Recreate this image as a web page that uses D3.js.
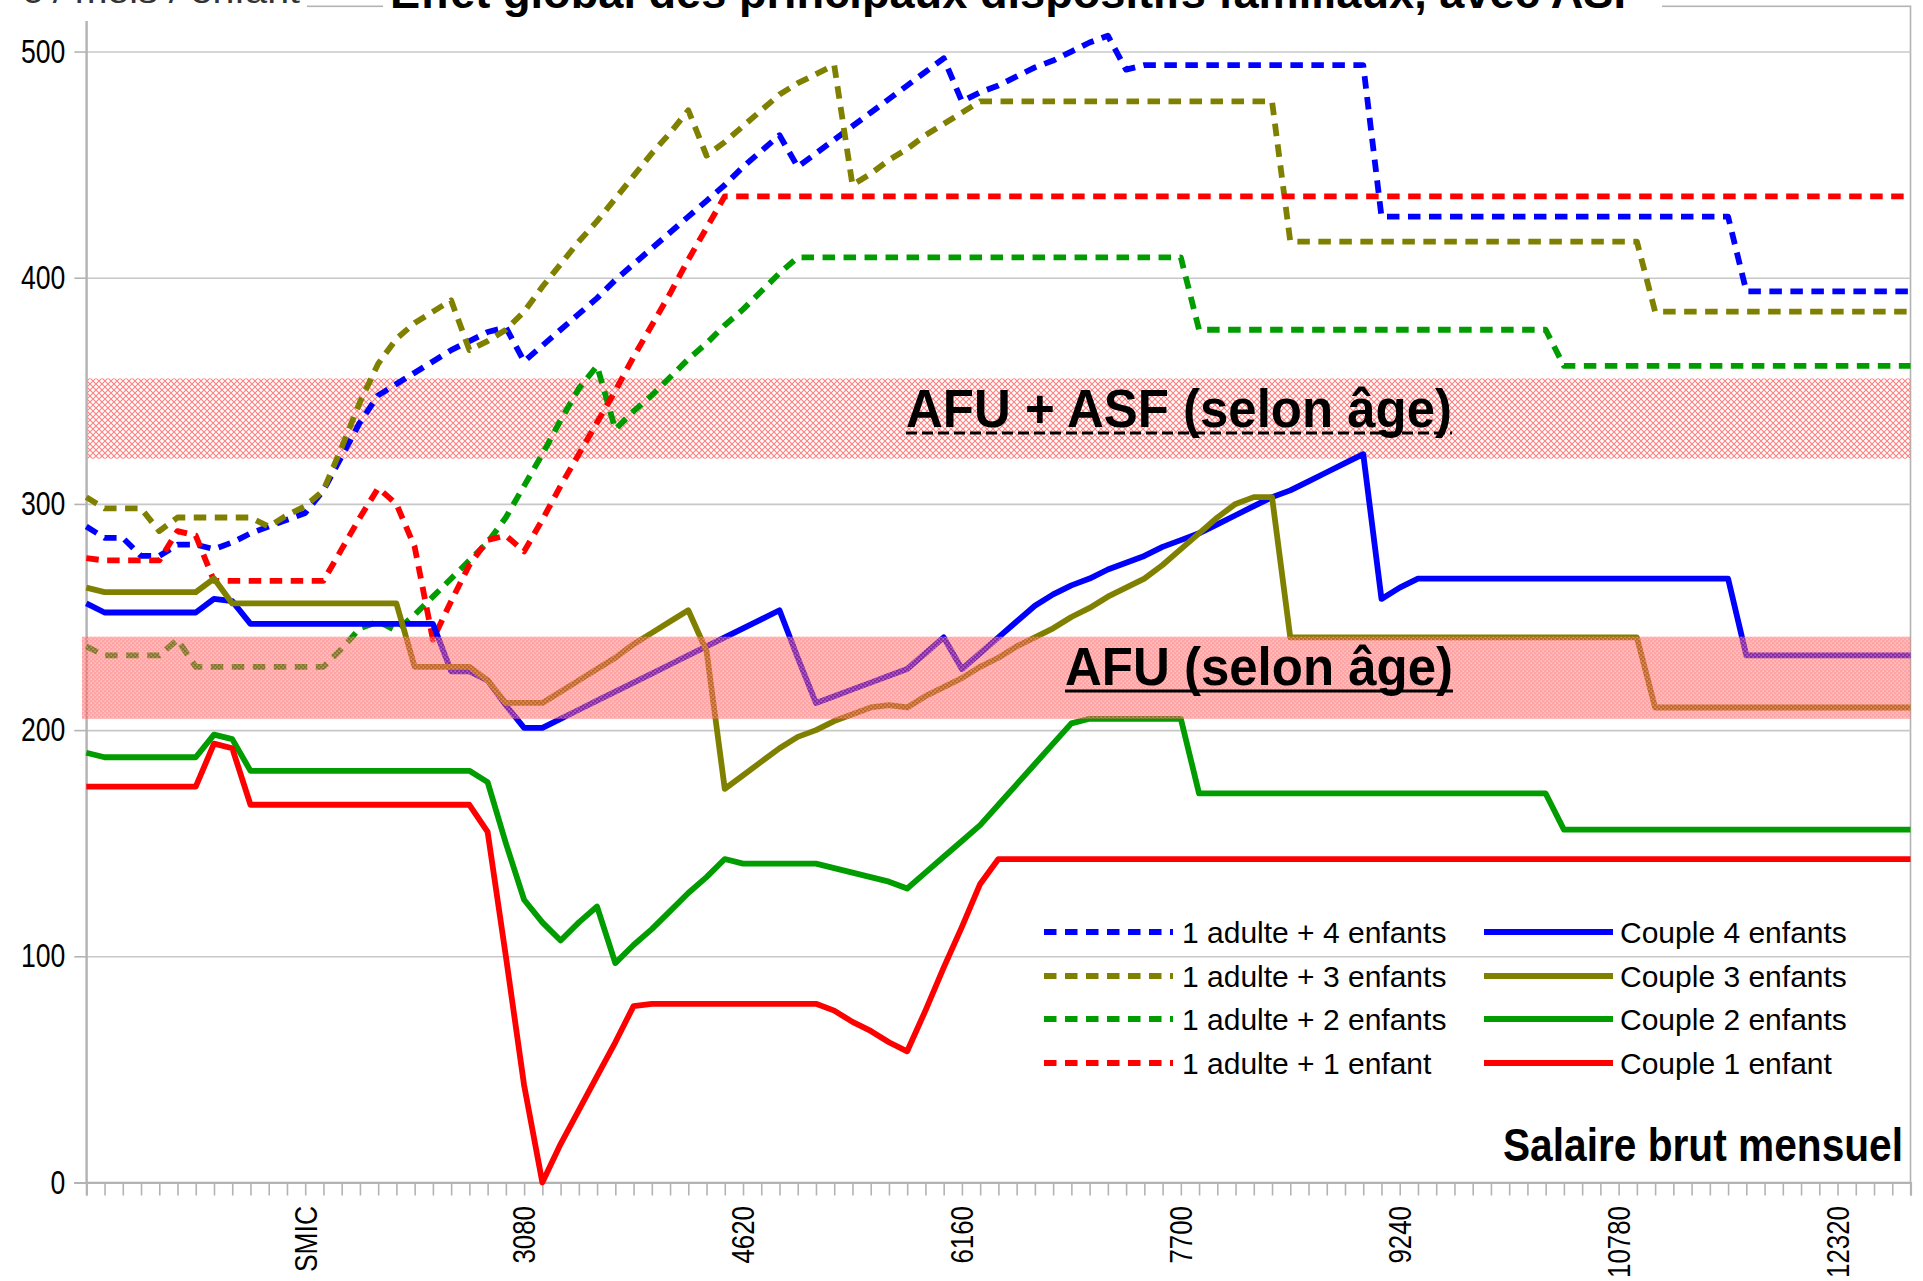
<!DOCTYPE html>
<html><head><meta charset="utf-8">
<script src="https://cdn.jsdelivr.net/npm/d3@7"></script>
<style>
body{margin:0;background:#fff;}
svg{display:block;font-family:"Liberation Sans",Arial,sans-serif;}
</style>
</head><body>
<svg id="chart" width="1923" height="1281"></svg>
<script>
// ---- DATA ----
// category index 0..100 (gross monthly salary, steps of 1540/12)
const categories = d3.range(0, 101);
const xTickLabels = [
  {i: 12, label: "SMIC"}, {i: 24, label: "3080"}, {i: 36, label: "4620"},
  {i: 48, label: "6160"}, {i: 60, label: "7700"}, {i: 72, label: "9240"},
  {i: 84, label: "10780"}, {i: 96, label: "12320"}
];
const yTickValues = [0, 100, 200, 300, 400, 500];
const bandASF = [320, 355.5];
const bandAFU = [205, 241.3];

const adulte4 = [290,285,285,277,277,282,282,280,283,287,
290,293,296,306,321,336,348,353,358,363,
368,372,376,378,363,370,377,384,391,399,
406,413,420,427,434,441,449,456,463,449,
455,461,467,473,479,485,491,497,478,482,
485,489,493,496,500,504,507,492,494,494,
494,494,494,494,494,494,494,494,494,494,
494,427,427,427,427,427,427,427,427,427,
427,427,427,427,427,427,427,427,427,427,
427,394,394,394,394,394,394,394,394,394,
394];
const adulte3 = [303,298,298,298,288,294,294,294,294,294,
290,295,299,306,325,345,362,373,380,385,
390,368,372,377,385,396,406,416,425,435,
445,455,464,474,454,460,467,474,481,486,
490,494,441,446,452,457,463,468,473,478,
478,478,478,478,478,478,478,478,478,478,
478,478,478,478,478,478,416,416,416,416,
416,416,416,416,416,416,416,416,416,416,
416,416,416,416,416,416,385,385,385,385,
385,385,385,385,385,385,385,385,385,385,
385];
const adulte2 = [237,233,233,233,233,240,228,228,228,228,
228,228,228,228,236,245,248,244,251,259,
267,275,283,294,308,322,337,351,361,333,
341,348,356,364,371,379,386,394,402,409,
409,409,409,409,409,409,409,409,409,409,
409,409,409,409,409,409,409,409,409,409,
409,377,377,377,377,377,377,377,377,377,
377,377,377,377,377,377,377,377,377,377,
377,361,361,361,361,361,361,361,361,361,
361,361,361,361,361,361,361,361,361,361,
361];
const adulte1 = [276,275,275,275,275,288,286,266,266,266,
266,266,266,266,280,294,307,300,281,240,
257,273,284,286,279,293,308,322,336,350,
365,379,393,408,422,436,436,436,436,436,
436,436,436,436,436,436,436,436,436,436,
436,436,436,436,436,436,436,436,436,436,
436,436,436,436,436,436,436,436,436,436,
436,436,436,436,436,436,436,436,436,436,
436,436,436,436,436,436,436,436,436,436,
436,436,436,436,436,436,436,436,436,436,
436];
const couple4 = [256,252,252,252,252,252,252,258,257,247,
247,247,247,247,247,247,247,247,247,247,
226,226,222,211,201,201,205,209,213,217,
221,225,229,233,237,241,245,249,253,232,
212,215,218,221,224,227,234,241,227,234,
241,248,255,260,264,267,271,274,277,281,
284,287,291,295,299,303,306,310,314,318,
322,258,263,267,267,267,267,267,267,267,
267,267,267,267,267,267,267,267,267,267,
267,233,233,233,233,233,233,233,233,233,
233];
const couple3 = [263,261,261,261,261,261,261,267,256,256,
256,256,256,256,256,256,256,256,228,228,
228,228,222,212,212,212,217,222,227,232,
238,243,248,253,235,174,180,186,192,197,
200,204,207,210,211,210,215,219,223,228,
232,237,241,245,250,254,259,263,267,273,
280,287,294,300,303,303,241,241,241,241,
241,241,241,241,241,241,241,241,241,241,
241,241,241,241,241,241,210,210,210,210,
210,210,210,210,210,210,210,210,210,210,
210];
const couple2 = [190,188,188,188,188,188,188,198,196,182,
182,182,182,182,182,182,182,182,182,182,
182,182,177,150,125,115,107,115,122,97,
105,112,120,128,135,143,141,141,141,141,
141,139,137,135,133,130,137,144,151,158,
167,176,185,194,203,205,205,205,205,205,
205,172,172,172,172,172,172,172,172,172,
172,172,172,172,172,172,172,172,172,172,
172,156,156,156,156,156,156,156,156,156,
156,156,156,156,156,156,156,156,156,156,
156];
const couple1 = [175,175,175,175,175,175,175,194,192,167,
167,167,167,167,167,167,167,167,167,167,
167,167,155,100,43,0,17,32,47,62,
78,79,79,79,79,79,79,79,79,79,
79,76,71,67,62,58,76,95,113,132,
143,143,143,143,143,143,143,143,143,143,
143,143,143,143,143,143,143,143,143,143,
143,143,143,143,143,143,143,143,143,143,
143,143,143,143,143,143,143,143,143,143,
143,143,143,143,143,143,143,143,143,143,
143];

const seriesNames = ["1 adulte + 4 enfants","1 adulte + 3 enfants","1 adulte + 2 enfants","1 adulte + 1 enfant",
                     "Couple 4 enfants","Couple 3 enfants","Couple 2 enfants","Couple 1 enfant"];
const seriesValues = [adulte4, adulte3, adulte2, adulte1, couple4, couple3, couple2, couple1];
const seriesColors = ["#0000ff","#808000","#009c00","#ff0000","#0000ff","#808000","#009c00","#ff0000"];
const seriesDashed = [true,true,true,true,false,false,false,false];

const titleText = "Effet global des principaux dispositifs familiaux, avec ASF";
const unitText = "€ / mois / enfant";
const xAxisTitle = "Salaire brut mensuel";
const bandASFLabel = "AFU + ASF (selon âge)";
const bandAFULabel = "AFU (selon âge)";

// ---- CHART ----
const svg = d3.select("#chart");
const X0 = 86.3, X1 = 1910.5, YB = 1182.5, YT = 6.3;
const x = d3.scaleLinear().domain([0, 100]).range([X0, X1]);
const y = d3.scaleLinear().domain([0, 520]).range([YB, YT]);
const grey = "#b3b3b3";

const defs = svg.append("defs");
const hatch = defs.append("pattern").attr("id","hatch").attr("patternUnits","userSpaceOnUse")
  .attr("width",6).attr("height",6);
hatch.append("path").attr("d","M0,0L6,6M6,0L0,6").attr("stroke","#ff7f7f").attr("stroke-width",1.1).attr("fill","none");
const dots = defs.append("pattern").attr("id","dots").attr("patternUnits","userSpaceOnUse")
  .attr("width",4).attr("height",4);
dots.append("rect").attr("width",4).attr("height",4).attr("fill","rgba(255,80,80,0.52)");
dots.append("rect").attr("x",0.5).attr("y",0.5).attr("width",1.3).attr("height",1.3).attr("fill","rgba(255,255,255,0.5)");
dots.append("rect").attr("x",2.5).attr("y",2.5).attr("width",1.3).attr("height",1.3).attr("fill","rgba(255,255,255,0.5)");

// wall border
svg.append("rect").attr("x",X0).attr("y",YT).attr("width",X1-X0).attr("height",YB-YT)
  .attr("fill","none").attr("stroke",grey).attr("stroke-width",1.6);

// grid
const grid = svg.append("g").attr("transform",`translate(${X0},0)`)
  .call(d3.axisLeft(y).tickValues(yTickValues.filter(v=>v>0)).tickSize(-(X1-X0)).tickFormat(""));
grid.select(".domain").remove();
grid.selectAll("line").attr("stroke","#c8c8c8").attr("stroke-width",1.6);

// upper band (under lines)
svg.append("rect").attr("x",X0).attr("width",X1-X0)
  .attr("y",y(bandASF[1])).attr("height",y(bandASF[0])-y(bandASF[1]))
  .attr("fill","url(#hatch)");

// y axis
const yAxis = svg.append("g").attr("transform",`translate(${X0},0)`)
  .call(d3.axisLeft(y).tickValues(yTickValues).tickSize(12).tickPadding(9));
yAxis.select(".domain").attr("stroke",grey).attr("stroke-width",2);
yAxis.selectAll("line").attr("stroke",grey).attr("stroke-width",1.6);
yAxis.selectAll("text").attr("font-size",33).attr("fill","#000")
  .attr("font-family",'"Liberation Sans",Arial,sans-serif')
  .attr("textLength", d => String(d).length*14.8).attr("lengthAdjust","spacingAndGlyphs");

// x axis
const labelMap = new Map(xTickLabels.map(d => [d.i, d.label]));
const xAxis = svg.append("g").attr("transform",`translate(0,${YB})`)
  .call(d3.axisBottom(x).tickValues(categories).tickSize(13).tickFormat(i => labelMap.get(i) || ""));
xAxis.select(".domain").attr("stroke",grey).attr("stroke-width",2.2);
xAxis.selectAll("line").attr("stroke",grey).attr("stroke-width",1.6);
xAxis.selectAll("text").attr("font-size",31).attr("fill","#000")
  .attr("font-family",'"Liberation Sans",Arial,sans-serif')
  .attr("text-anchor","end").attr("transform","rotate(-90)")
  .attr("x",-23.5).attr("y",0).attr("dy","0.35em")
  .each(function(d){ const t = labelMap.get(d); if(t){ d3.select(this).attr("textLength", t==="SMIC"?66:t.length*14.4).attr("lengthAdjust","spacingAndGlyphs"); } });

// lines
const line = d3.line().x((d,i) => x(categories[i])).y(d => y(d)).curve(d3.curveLinear);
const lines = svg.append("g");
seriesValues.forEach((vals, k) => {
  lines.append("path").datum(vals)
    .attr("d", line).attr("fill","none")
    .attr("stroke", seriesColors[k]).attr("stroke-width", 5.8)
    .attr("stroke-linejoin","round")
    .attr("stroke-dasharray", seriesDashed[k] ? "12.5,8.5" : null);
});

// lower band (over lines)
svg.append("rect").attr("x",82).attr("width",X1-82)
  .attr("y",y(bandAFU[1])).attr("height",y(bandAFU[0])-y(bandAFU[1]))
  .attr("fill","url(#dots)");

// band labels
function boldLabel(txt, xs, base, size, len, dashed){
  svg.append("text").attr("x",xs).attr("y",base).attr("font-size",size).attr("font-weight","bold")
    .attr("textLength",len).attr("lengthAdjust","spacingAndGlyphs").attr("fill","#000").text(txt);
  svg.append("line").attr("x1",xs).attr("x2",xs+len).attr("y1",base+6).attr("y2",base+6)
    .attr("stroke","#000").attr("stroke-width",3)
    .attr("stroke-dasharray", dashed ? "11,5" : null);
}
boldLabel(bandASFLabel, 906, 427, 54, 546, true);
boldLabel(bandAFULabel, 1065, 685, 53, 388, false);

// x axis title
svg.append("text").attr("x",1503).attr("y",1161).attr("font-size",46).attr("font-weight","bold")
  .attr("textLength",400).attr("lengthAdjust","spacingAndGlyphs").text(xAxisTitle);

// legend
const legRows = [932, 976, 1019, 1063];
seriesNames.forEach((name, k) => {
  const col = k < 4 ? 0 : 1, row = k % 4;
  const lx = col === 0 ? 1044 : 1484, tx = col === 0 ? 1182 : 1620;
  const ly = legRows[row];
  svg.append("line").attr("x1",lx).attr("x2",lx+129).attr("y1",ly).attr("y2",ly)
    .attr("stroke",seriesColors[k]).attr("stroke-width",5.8)
    .attr("stroke-dasharray", seriesDashed[k] ? "12.5,8.5" : null);
  svg.append("text").attr("x",tx).attr("y",ly+11).attr("font-size",30).attr("fill","#000").text(name);
});

// top (cut-off) titles with white boxes over wall border
svg.append("rect").attr("x",0).attr("y",0).attr("width",307).attr("height",21).attr("fill","#fff");
svg.append("rect").attr("x",383).attr("y",0).attr("width",1279).attr("height",21).attr("fill","#fff");
svg.append("text").attr("x",20).attr("y",3).attr("font-size",34).attr("fill","#333")
  .attr("textLength",280).attr("lengthAdjust","spacingAndGlyphs").text(unitText);
svg.append("text").attr("x",390).attr("y",8).attr("font-size",44).attr("font-weight","bold")
  .attr("textLength",1251).attr("lengthAdjust","spacingAndGlyphs").text(titleText);
</script>
</body></html>
